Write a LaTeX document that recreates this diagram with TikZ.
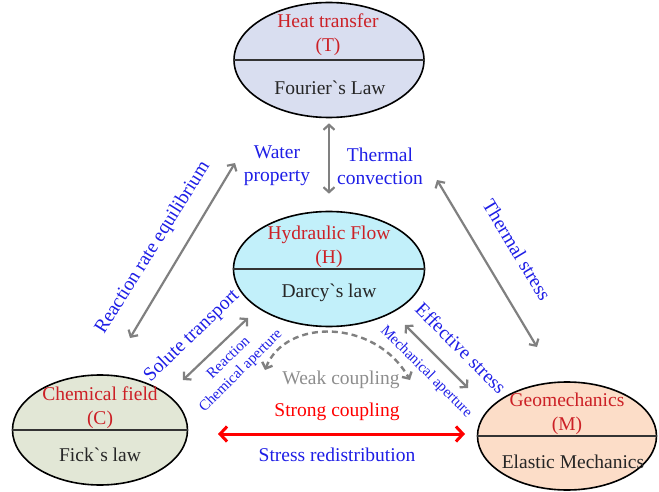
\documentclass[tikz,border=0pt]{standalone}
\usepackage{fontspec}
\setmainfont{Liberation Serif}
\usepackage{xcolor}
\usetikzlibrary{arrows.meta, shapes.geometric, positioning}
\definecolor{tfill}{HTML}{D9DEF0}
\definecolor{hfill}{HTML}{C2F0FA}
\definecolor{cfill}{HTML}{E2E7D6}
\definecolor{mfill}{HTML}{FCDDC8}
\definecolor{ttlred}{HTML}{CC2026}
\definecolor{lblblue}{HTML}{1E1EE6}
\definecolor{linkgray}{HTML}{808080}

\begin{document}
\begin{tikzpicture}[x=1pt, y=-1pt,
  layer/.style={ellipse, draw, line width=1.6pt, inner sep=0pt},
  ttl/.style={text=ttlred, align=center, font=\fontsize{19.5}{24}\selectfont},
  law/.style={text=black!85, font=\fontsize{19.5}{23}\selectfont},
  lbl/.style={text=lblblue, align=center, font=\fontsize{19.5}{23}\selectfont},
  small/.style={text=lblblue, font=\fontsize{15}{18}\selectfont},
  link/.style={{Straight Barb[length=5pt,width=11pt]}-{Straight Barb[length=5pt,width=11pt]},
               line width=2.2pt, linkgray}
]
\useasboundingbox (0,0) rectangle (659,492);

% the four fields
\node[layer, fill=tfill, minimum width=190pt, minimum height=115pt] (T) at (329,60)  {};
\node[layer, fill=hfill, minimum width=191pt, minimum height=115pt] (H) at (329,269) {};
\node[layer, fill=cfill, minimum width=175pt, minimum height=110pt] (C) at (100,430) {};
\node[layer, fill=mfill, minimum width=179pt, minimum height=108pt] (M) at (567,436) {};
\foreach \f in {T,H,C,M}
  \draw[line width=1.2pt, black!80] (\f.west) -- (\f.east);

\node[ttl] (Tttl) at (328,35)  {Heat transfer\\(T)};
\node[law] (Tlaw) at (330,88)  {Fourier\textasciigrave s Law};
\node[ttl] (Httl) at (329,247) {Hydraulic Flow\\(H)};
\node[law] (Hlaw) at (329,293) {Darcy\textasciigrave s law};
\node[ttl] (Cttl) at (100,408) {Chemical field\\(C)};
\node[law] (Claw) at (100,455) {Fick\textasciigrave s law};
\node[ttl] (Mttl) at (567,414) {Geomechanics\\(M)};
\node[law] (Mlaw) at (573,462) {Elastic Mechanics};

% free ends of the links
\coordinate (ctA) at (130,338);  \coordinate (ctB) at (235,163);
\coordinate (tmA) at (437,180);  \coordinate (tmB) at (537,347);
\coordinate (chA) at (183,380);  \coordinate (chB) at (248,318);
\coordinate (hmA) at (405,325);  \coordinate (hmB) at (468,388);
\coordinate (cmA) at (218,434);  \coordinate (cmB) at (465,434);
\coordinate (wkA) at (265,370);  \coordinate (wkB) at (410,380);

\draw[link, shorten <=5pt, shorten >=17pt] (T.south) -- (H.north);
\draw[link] (ctA) -- (ctB);
\draw[link] (tmA) -- (tmB);
\draw[link] (chA) -- (chB);
\draw[link] (hmA) -- (hmB);
\draw[link, dash pattern=on 6pt off 4pt, line width=2.4pt]
  (wkA) .. controls (285,318) and (375,318) .. (wkB);
\draw[{Straight Barb[length=7pt,width=15pt]}-{Straight Barb[length=7pt,width=15pt]},
      line width=3pt, red] (cmA) -- (cmB);

% coupling labels
\node[lbl] (wat) at (277,166) {Water\\property};
\node[lbl] (con) at (380,166) {Thermal\\convection};
\node[lbl, rotate=58]  (rre) at (153,248) {Reaction rate equilibrium};
\node[lbl, rotate=-59] (tst) at (517,250) {Thermal stress};
\node[lbl, rotate=44]  (sol) at (192,336) {Solute transport};
\node[small, rotate=44] (rea) at (228,357) {Reaction};
\node[small, rotate=45] (cap) at (241,371) {Chemical aperture};
\node[lbl, rotate=-45] (eff) at (461,348) {Effective stress};
\node[small, rotate=-45] (map) at (426,372) {Mechanical aperture};
\node[lbl, text=linkgray!90] (wea) at (341,380) {Weak coupling};
\node[lbl, text=red] (str) at (337,412) {Strong coupling};
\node[lbl] (red) at (337,455) {Stress redistribution};
\end{tikzpicture}
\end{document}
